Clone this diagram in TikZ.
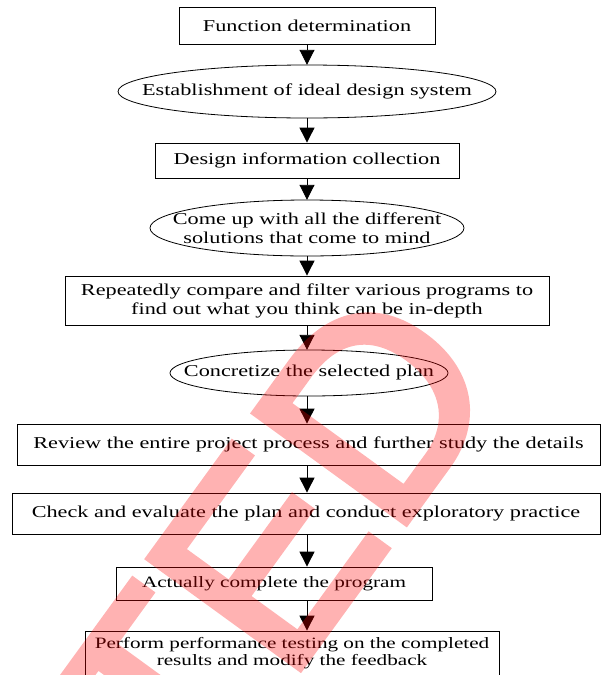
\documentclass[tikz,border=0pt]{standalone}
\usepackage{fontspec}
\setmainfont{Liberation Serif}[FakeStretch=1.34]
\newfontfamily\wmfont{Liberation Sans}[FakeBold=3]
\usetikzlibrary{shapes.geometric, arrows.meta, calc}

\begin{document}
\begin{tikzpicture}[x=1pt, y=1pt,
    box/.style={draw, line width=0.8pt, rectangle, inner sep=0pt, align=center,
        font=\fontsize{16.6}{19}\selectfont},
    smallbox/.style={box, font=\fontsize{15.8}{17.5}\selectfont},
    oval/.style={rectangle, inner sep=0pt, align=center,
        font=\fontsize{16.6}{19}\selectfont},
    rim/.style={line width=0.8pt},
    flow/.style={line width=0.9pt, -{Triangle[length=15pt, width=15pt]}},
    wmark/.style={red, inner sep=0pt, anchor=base west,
        font=\wmfont\fontsize{270}{270}\selectfont}]
    \useasboundingbox (0,0) rectangle (603,-675);

    % Steps of the design process
    \node[box, minimum width=256pt, minimum height=37pt] (f1) at (307,-25.5) {Function determination};
    \node[oval, minimum width=378pt, minimum height=53pt] (f2) at (307,-91.5) {Establishment of ideal design system};
    \node[box, minimum width=304pt, minimum height=35pt] (f3) at (307,-160.5) {Design information collection};
    \node[oval, minimum width=314pt, minimum height=56pt] (f4) at (307,-228) {Come up with all the different\\solutions that come to mind};
    \node[box, minimum width=484pt, minimum height=49pt] (f5) at (307,-300.5) {Repeatedly compare and filter various programs to\\find out what you think can be in-depth};
    \node[oval, minimum width=278pt, minimum height=46pt] (f6) at (309,-373) {Concretize the selected plan};
    \node[box, minimum width=583pt, minimum height=41pt] (f7) at (308.5,-444.5) {Review the entire project process and further study the details};
    \node[box, minimum width=588pt, minimum height=41pt] (f8) at (306,-513.5) {Check and evaluate the plan and conduct exploratory practice};
    \node[smallbox, minimum width=316pt, minimum height=33pt] (f9) at (274,-583.5) {Actually complete the program};
    \node[smallbox, minimum width=414pt, minimum height=44pt] (f10) at (292,-653) {Perform performance testing on the completed\\results and modify the feedback};

    % Ellipse outlines
    \draw[rim] (f2.center) ellipse [x radius=189, y radius=26.5];
    \draw[rim] (f4.center) ellipse [x radius=157, y radius=28];
    \draw[rim] (f6.center) ellipse [x radius=139, y radius=23];

    % Arrows
    \coordinate (axis) at (307,0);
    \draw[flow] (axis |- f1.south) -- (axis |- f2.north);
    \draw[flow] (axis |- f2.south) -- (axis |- f3.north);
    \draw[flow] (axis |- f3.south) -- (axis |- f4.north);
    \draw[flow] (axis |- f4.south) -- (axis |- f5.north);
    \draw[flow] (axis |- f5.south) -- (axis |- f6.north);
    \draw[flow] (axis |- f6.south) -- (axis |- f7.north);
    \draw[flow] (axis |- f7.south) -- (axis |- f8.north);
    \draw[flow] (axis |- f8.south) -- (axis |- f9.north);
    \draw[flow] (axis |- f9.south) -- (axis |- f10.north);

    % Watermark
    \begin{scope}[transparency group, opacity=0.3]
        \clip (0,0) rectangle (603,-675);
        \node[wmark, rotate=54] (wm) at (190,-819) {TED};
    \end{scope}
\end{tikzpicture}
\end{document}
